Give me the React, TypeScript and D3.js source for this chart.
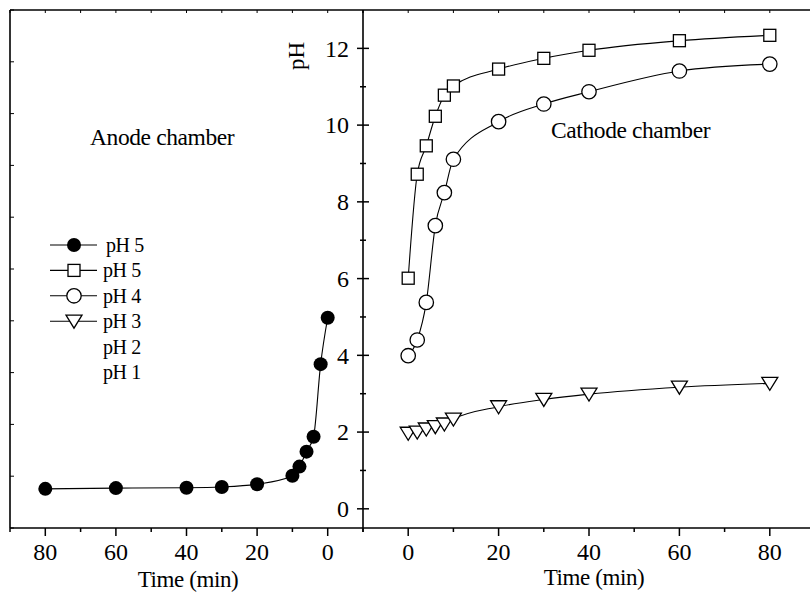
import React from 'react';
import * as d3 from 'd3';

// anode chamber (time counted backwards on the left panel)
const anodeTime = [80, 60, 40, 30, 20, 10, 8, 6, 4, 2, 0];
const anodePH = [0.52, 0.54, 0.55, 0.57, 0.64, 0.86, 1.1, 1.49, 1.88, 3.77, 4.98];

// cathode chamber
const cathodeTime = [0, 2, 4, 6, 8, 10, 20, 30, 40, 60, 80];
const cathodePH5 = [6.01, 8.72, 9.46, 10.23, 10.78, 11.02, 11.46, 11.74, 11.95, 12.2, 12.34];
const cathodePH4 = [3.99, 4.4, 5.38, 7.38, 8.24, 9.11, 10.09, 10.55, 10.87, 11.41, 11.59];
const cathodePH3 = [1.97, 2.0, 2.08, 2.14, 2.21, 2.34, 2.66, 2.85, 2.99, 3.17, 3.27];

const legendLabels = ['pH 5', 'pH 5', 'pH 4', 'pH 3', 'pH 2', 'pH 1'];
const legendMarkers = ['dot', 'square', 'circle', 'triangle', 'none', 'none'];

const timeTicks = [0, 20, 40, 60, 80];
const timeMinor = [-10, 10, 30, 50, 70, 90];
const phTicks = [0, 2, 4, 6, 8, 10, 12];
const phMinor = [1, 3, 5, 7, 9, 11];

const FONT = '"Liberation Serif", "Times New Roman", serif';

const W = 810;
const H = 596;
const top = 10;
const bottom = 528;
const left = 10;
const mid = 363;
const right = 815;

type Marker = 'dot' | 'square' | 'circle' | 'triangle' | 'none';

const Symbol = ({ kind, x, y }: { kind: Marker; x: number; y: number }) => {
  if (kind === 'dot') return <circle cx={x} cy={y} r={7} fill="#000" />;
  if (kind === 'circle') {
    return <circle cx={x} cy={y} r={7.2} fill="#fff" stroke="#000" strokeWidth={1.3} />;
  }
  if (kind === 'square') {
    return <rect x={x - 6} y={y - 6} width={12} height={12} fill="#fff" stroke="#000" strokeWidth={1.3} />;
  }
  if (kind === 'triangle') {
    const p = `${x - 8},${y - 6} ${x + 8},${y - 6} ${x},${y + 7}`;
    return <polygon points={p} fill="#fff" stroke="#000" strokeWidth={1.3} />;
  }
  return null;
};

const Series = ({ xs, ys, sx, sy, marker }: any) => {
  const pts: [number, number][] = xs.map((t: number, i: number) => [sx(t), sy(ys[i])]);
  pts.sort((a, b) => a[0] - b[0]);
  const path = d3.line().curve(d3.curveMonotoneX)(pts) as string;
  return (
    <g>
      <path d={path} fill="none" stroke="#000" strokeWidth={1.1} />
      {pts.map(([x, y], i) => <Symbol key={i} kind={marker} x={x} y={y} />)}
    </g>
  );
};

const App = () => {
  const xL = d3.scaleLinear().domain([90, -10]).range([left, mid]);
  const xR = d3.scaleLinear().domain([-10, 90]).range([mid, right]);
  const y = d3.scaleLinear().domain([-0.5, 13]).range([bottom, top]);
  const yLeftTicks = d3.scaleLinear().domain([0, 10]).range([bottom, top]);
  const legendY = d3.scalePoint<number>().domain(legendLabels.map((_, i) => i)).range([245, 372]);

  const axisStroke = 1.6;

  return (
    <svg
      width={W}
      height={H}
      style={{ position: 'absolute', left: 0, top: 0, background: '#fff' }}
      fontFamily={FONT}
    >
      <rect width={W} height={H} fill="#fff" />

      {/* frames */}
      <line x1={left} x2={right} y1={top} y2={top} stroke="#000" strokeWidth={axisStroke} />
      <line x1={left} x2={right} y1={bottom} y2={bottom} stroke="#000" strokeWidth={axisStroke} />
      <line x1={left} x2={left} y1={top} y2={bottom} stroke="#000" strokeWidth={axisStroke} />
      <line x1={mid} x2={mid} y1={top} y2={bottom} stroke="#000" strokeWidth={axisStroke} />

      {/* left panel left-axis ticks (unlabelled) */}
      {yLeftTicks.ticks(10).map((v) => (
        <line key={`lt${v}`} x1={left} x2={left + 4} y1={yLeftTicks(v)} y2={yLeftTicks(v)} stroke="#000" strokeWidth={1} />
      ))}

      {/* top ticks, both panels */}
      {[...timeTicks, ...timeMinor].map((v) => (
        <g key={`tt${v}`}>
          <line x1={xL(v)} x2={xL(v)} y1={top} y2={top + 3} stroke="#000" strokeWidth={1} />
          <line x1={xR(v)} x2={xR(v)} y1={top} y2={top + 3} stroke="#000" strokeWidth={1} />
        </g>
      ))}

      {/* bottom axes */}
      {timeMinor.map((v) => (
        <g key={`bm${v}`}>
          <line x1={xL(v)} x2={xL(v)} y1={bottom} y2={bottom + 4} stroke="#000" strokeWidth={1.5} />
          <line x1={xR(v)} x2={xR(v)} y1={bottom} y2={bottom + 4} stroke="#000" strokeWidth={1.5} />
        </g>
      ))}
      {timeTicks.map((v) => (
        <g key={`bt${v}`} fontSize={24} textAnchor="middle">
          <line x1={xL(v)} x2={xL(v)} y1={bottom} y2={bottom + 8} stroke="#000" strokeWidth={1.5} />
          <line x1={xR(v)} x2={xR(v)} y1={bottom} y2={bottom + 8} stroke="#000" strokeWidth={1.5} />
          <text x={xL(v)} y={560}>{v}</text>
          <text x={xR(v)} y={560}>{v}</text>
        </g>
      ))}
      <text x={188} y={587} fontSize={23} letterSpacing={-0.4} textAnchor="middle">Time (min)</text>
      <text x={594} y={585} fontSize={23} letterSpacing={-0.4} textAnchor="middle">Time (min)</text>

      {/* pH axis on the divider */}
      {phMinor.map((v) => (
        <line key={`pm${v}`} x1={mid - 3} x2={mid + 3} y1={y(v)} y2={y(v)} stroke="#000" strokeWidth={1.5} />
      ))}
      {phTicks.map((v) => (
        <g key={`pt${v}`}>
          <line x1={mid - 6} x2={mid + 6} y1={y(v)} y2={y(v)} stroke="#000" strokeWidth={1.5} />
          <text x={349} y={y(v) + 8.2} fontSize={24} textAnchor="end">{v}</text>
        </g>
      ))}
      <text transform="translate(304, 56) rotate(-90)" fontSize={23} textAnchor="middle">pH</text>

      {/* data */}
      <Series xs={anodeTime} ys={anodePH} sx={xL} sy={y} marker="dot" />
      <Series xs={cathodeTime} ys={cathodePH5} sx={xR} sy={y} marker="square" />
      <Series xs={cathodeTime} ys={cathodePH4} sx={xR} sy={y} marker="circle" />
      <Series xs={cathodeTime} ys={cathodePH3} sx={xR} sy={y} marker="triangle" />

      {/* annotations */}
      <text x={90} y={145} fontSize={23.5} letterSpacing={-0.4}>Anode chamber</text>
      <text x={551} y={138} fontSize={23.5} letterSpacing={-0.4}>Cathode chamber</text>

      {/* legend */}
      {legendLabels.map((label, i) => {
        const ly = legendY(i) as number;
        const m = legendMarkers[i] as Marker;
        return (
          <g key={`lg${i}`}>
            {m !== 'none' && (
              <>
                <line x1={50} x2={97} y1={ly} y2={ly} stroke="#000" strokeWidth={1.1} />
                <Symbol kind={m} x={74} y={ly} />
              </>
            )}
            <text x={i === 0 ? 106 : 103} y={ly + 7} fontSize={20} letterSpacing={-0.4}>{label}</text>
          </g>
        );
      })}
    </svg>
  );
};

export default App;
